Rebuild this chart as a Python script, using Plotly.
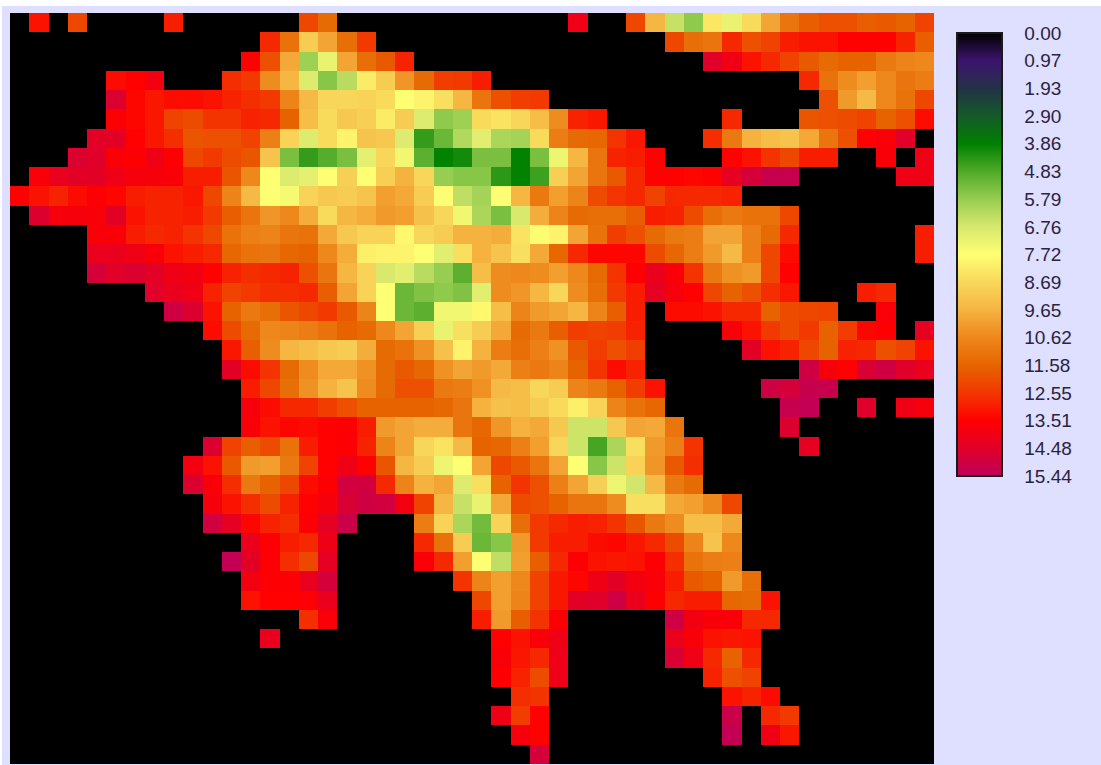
import plotly.graph_objects as go

_ = None

row_00 = [_, 13.2, _, 12.2, _, _, _, _, 13.0] + [_]*6 + [12.2, 11.4] + [_]*12 + [14.0, _, _, 12.2, 9.6, 6.5, 5.7, 8.3, 7.2, 8.6, 10.0, 11.1, 11.7, 12.0, 12.0, 11.7, 11.8, 11.6, 12.3]
row_01 = [_]*13 + [12.8, 11.2, 9.0, 10.0, 11.3, 12.5] + [_]*15 + [12.2, 11.3, 11.1, 12.8, 12.0, 12.3, 13.0, 13.2, 13.2, 13.5, 13.5, 13.5, 12.9, 11.7]
row_02 = [_]*12 + [13.5, 12.0, 9.9, 5.9, 7.2, 10.0, 11.3, 11.8, 12.9] + [_]*15 + [14.5, 14.0, 13.2, 12.8, 12.3, 11.8, 11.4, 11.6, 11.6, 11.0, 10.7, 10.6]
row_03 = [_]*5 + [13.3, 13.5, 13.9, _, _, _, 12.7, 12.5, 10.5, 9.6, 6.9, 5.6, 6.3, 8.2, 9.0, 10.3, 11.4, 12.4, 12.5, 13.0] + [_]*16 + [12.8, 11.2, 10.5, 10.1, 10.6, 11.1, 10.9]
row_04 = [_]*5 + [14.6, 13.4, 13.1, 13.3, 13.3, 13.2, 12.9, 12.7, 12.5, 10.7, 9.5, 8.7, 8.7, 8.8, 8.6, 7.7, 8.0, 8.5, 9.6, 11.1, 12.0, 12.4, 12.5] + [_]*14 + [12.0, 10.2, 9.5, 10.6, 11.2, 12.2]
row_05 = [_]*5 + [13.6, 13.4, 13.1, 12.3, 12.1, 12.6, 12.6, 12.9, 12.8, 11.6, 9.4, 8.6, 9.1, 8.9, 8.2, 9.0, 6.9, 5.7, 5.9, 8.6, 8.4, 8.7, 9.4, 10.5, 12.9, 13.1] + [_]*6 + [12.8, _, _, _, 11.9, 12.0, 12.1, 12.3, 11.6, 12.0, 13.3]
row_06 = [_]*4 + [14.4, 14.4, 13.5, 13.1, 12.7, 11.9, 12.0, 12.0, 12.3, 10.8, 8.8, 6.9, 8.6, 8.0, 9.2, 9.1, 6.9, 4.5, 5.2, 6.2, 7.0, 6.1, 6.0, 8.6, 10.9, 11.4, 11.5, 12.6, 13.1] + [_]*3 + [12.7, 11.0, 9.7, 9.4, 9.2, 9.9, 11.1, 12.0, 13.5, 13.7, 14.5, _]
row_07 = [_]*3 + [14.6, 14.5, 13.7, 13.6, 14.0, 13.6, 12.2, 12.5, 12.1, 11.9, 9.2, 5.4, 4.5, 4.9, 5.4, 7.1, 8.7, 7.4, 5.0, 3.9, 4.1, 5.4, 5.4, 3.9, 5.4, 7.3, 9.6, 11.1, 12.9, 13.0, 13.5] + [_]*3 + [13.5, 13.2, 12.6, 12.2, 13.0, 13.0, _, _, 13.7, _, 14.0]
row_08 = [_, 13.7, 14.2, 14.4, 14.4, 14.0, 13.8, 13.8, 13.7, 13.0, 13.0, 11.9, 10.6, 7.7, 6.9, 7.1, 7.7, 8.9, 7.7, 8.9, 9.7, 8.7, 5.8, 5.6, 5.6, 4.4, 3.9, 4.6, 8.9, 10.0, 11.1, 11.8, 12.8, 13.5, 13.5, 13.4, 13.5, 14.3, 14.8, 15.2, 15.2] + [_]*5 + [14.0, 14.0]
row_09 = [13.5, 13.2, 12.9, 13.3, 13.6, 13.4, 13.0, 12.9, 12.9, 13.1, 12.2, 10.7, 9.5, 7.7, 7.5, 8.8, 9.1, 9.0, 9.2, 10.1, 9.9, 9.0, 7.7, 6.4, 6.0, 7.7, 9.6, 11.0, 10.1, 10.7, 12.1, 12.6, 12.8, 12.3, 12.8, 12.8, 12.8, 12.9] + [_]*10
row_10 = [_, 14.6, 13.8, 13.8, 13.7, 14.4, 13.2, 12.9, 12.9, 13.0, 12.5, 11.7, 11.1, 10.3, 10.6, 9.8, 8.6, 9.6, 9.8, 10.2, 10.1, 9.3, 8.7, 7.4, 6.1, 5.4, 6.8, 9.8, 10.7, 11.4, 11.3, 11.3, 11.7, 13.0, 12.9, 12.1, 11.3, 11.0, 11.2, 11.2, 12.2] + [_]*7
row_11 = [_]*4 + [13.7, 13.7, 13.0, 12.8, 12.9, 12.6, 12.2, 11.2, 10.8, 10.7, 11.1, 11.2, 9.9, 9.1, 8.8, 8.8, 7.9, 8.7, 9.0, 9.7, 9.7, 9.8, 8.4, 7.8, 8.0, 10.0, 11.2, 12.4, 12.0, 11.4, 11.0, 10.9, 10.0, 10.0, 10.8, 11.4, 12.8] + [_]*6 + [13.0]
row_12 = [_]*4 + [14.2, 14.2, 14.0, 13.7, 13.2, 13.0, 12.8, 11.5, 11.2, 11.1, 11.5, 11.6, 10.6, 9.8, 8.1, 8.0, 8.0, 7.7, 7.0, 8.5, 9.7, 9.2, 8.5, 9.9, 11.5, 12.8, 13.4, 13.4, 13.4, 12.1, 11.5, 10.9, 10.2, 9.5, 10.8, 12.2, 13.3] + [_]*6 + [13.0]
row_13 = [_]*4 + [14.8, 14.5, 14.6, 14.4, 14.0, 13.9, 13.5, 12.9, 12.7, 12.8, 12.9, 12.0, 11.1, 9.6, 8.8, 6.8, 7.0, 6.3, 5.8, 5.0, 9.4, 10.5, 10.6, 10.5, 10.1, 10.6, 11.4, 12.6, 13.6, 14.2, 13.7, 12.6, 11.0, 10.4, 10.2, 12.2, 13.5] + [_]*7
row_14 = [_]*7 + [14.5, 14.2, 14.0, 12.9, 12.3, 12.5, 12.7, 12.7, 12.8, 11.7, 10.0, 8.8, 7.7, 5.2, 5.5, 5.7, 5.5, 7.0, 10.5, 10.3, 9.6, 8.7, 10.5, 11.3, 12.5, 13.0, 14.3, 13.8, 13.5, 12.2, 11.6, 12.0, 12.7, 13.1] + [_]*3 + [13.0, 12.8, _, _]
row_15 = [_]*8 + [15.0, 14.6, 13.2, 11.6, 11.0, 11.3, 11.9, 12.2, 12.5, 11.8, 10.7, 7.7, 5.2, 5.0, 7.4, 7.4, 7.9, 9.4, 10.7, 10.2, 10.0, 9.6, 10.7, 11.7, 13.0, _, 13.3, 13.3, 13.2, 12.8, 12.8, 11.6, 12.1, 12.2, 12.3, _, _, 13.7, _, _]
row_16 = [_]*10 + [13.3, 12.1, 11.4, 10.6, 10.7, 10.9, 11.2, 11.6, 11.4, 10.6, 10.0, 8.9, 7.2, 8.5, 9.0, 9.9, 11.4, 11.0, 11.7, 12.4, 12.3, 12.4, 12.9] + [_]*4 + [13.7, 13.2, 12.5, 12.1, 12.5, 11.6, 12.4, 13.4, 13.6, _, 14.3]
row_17 = [_]*11 + [13.1, 11.7, 10.5, 9.6, 9.4, 9.1, 9.0, 9.8, 11.4, 11.2, 10.4, 9.3, 8.0, 9.7, 10.9, 11.3, 10.8, 10.4, 11.8, 12.4, 12.0, 12.4] + [_]*5 + [14.4, 13.2, 12.9, 12.2, 11.6, 12.9, 12.8, 12.0, 12.3, 13.2]
row_18 = [_]*11 + [14.4, 13.3, 12.6, 11.4, 10.5, 9.9, 9.9, 10.4, 11.4, 11.8, 11.5, 10.4, 10.0, 10.2, 9.9, 10.8, 11.0, 10.7, 11.6, 12.6, 13.3, 12.9] + [_]*8 + [15.0, 13.8, 13.5, 14.7, 15.0, 14.5, 14.2]
row_19 = [_]*12 + [13.0, 12.2, 11.3, 10.4, 9.7, 9.2, 10.5, 11.4, 12.0, 12.0, 11.0, 10.9, 10.4, 9.5, 9.4, 8.7, 9.0, 10.7, 11.0, 11.6, 12.4, 13.2] + [_]*5 + [15.0, 14.8, 15.2, 15.2] + [_]*5
row_20 = [_]*12 + [13.8, 13.3, 12.8, 12.8, 12.4, 12.0, 11.6, 11.6, 11.6, 11.6, 11.5, 11.1, 9.7, 9.3, 9.4, 9.0, 8.6, 8.1, 8.8, 10.7, 11.2, 11.5] + [_]*6 + [15.2, 15.3, _, _, 14.5, _, 14.0, 13.8]
row_21 = [_]*12 + [13.7, 13.2, 13.4, 13.3, 13.5, 13.6, 13.0, 10.2, 10.0, 9.8, 9.8, 11.1, 11.5, 10.3, 9.7, 9.9, 9.1, 6.6, 6.6, 9.1, 10.0, 9.9, 11.1] + [_]*5 + [14.6] + [_]*7
row_22 = [_]*10 + [14.6, 12.3, 11.7, 12.1, 11.2, 13.0, 13.5, 13.6, 12.9, 10.7, 10.0, 8.7, 8.4, 9.5, 11.6, 11.5, 10.8, 10.1, 8.7, 6.6, 4.7, 6.1, 8.5, 10.2, 10.8, 12.6] + [_]*5 + [14.3] + [_]*6
row_23 = [_]*9 + [13.9, 13.2, 11.8, 10.2, 10.1, 11.0, 12.3, 13.5, 14.0, 13.5, 11.9, 9.6, 9.0, 7.3, 7.7, 10.0, 12.2, 11.8, 11.1, 10.0, 7.7, 5.6, 6.6, 8.8, 10.3, 11.8, 12.7] + [_]*12
row_24 = [_]*9 + [14.6, 13.7, 12.7, 11.0, 11.6, 12.2, 13.3, 13.6, 14.9, 14.9, 12.8, 10.7, 9.7, 10.0, 6.9, 8.5, 11.6, 12.6, 12.0, 10.8, 10.0, 8.9, 7.3, 6.7, 9.5, 11.0, 11.4] + [_]*12
row_25 = [_]*10 + [13.8, 13.2, 12.7, 12.1, 12.9, 13.5, 13.8, 14.7, 15.0, 14.9, 13.9, 12.3, 9.6, 6.5, 7.2, 9.9, 12.1, 12.0, 11.6, 11.1, 11.1, 10.5, 8.5, 8.5, 9.9, 10.1, 10.6, 12.2] + [_]*10
row_26 = [_]*10 + [14.9, 14.3, 13.4, 12.9, 12.7, 13.6, 14.3, 15.1, _, _, _, 10.9, 8.8, 6.1, 5.3, 8.8, 11.3, 12.5, 12.8, 13.0, 12.9, 12.6, 11.9, 11.0, 10.5, 9.4, 9.4, 9.9] + [_]*10
row_27 = [_]*12 + [14.2, 13.6, 13.0, 12.8, 14.0] + [_]*4 + [12.8, 11.2, 9.0, 5.2, 5.6, 10.2, 12.5, 13.0, 13.0, 13.3, 13.4, 13.1, 12.8, 12.1, 10.7, 9.2, 10.6] + [_]*10
row_28 = [_]*11 + [15.3, 14.4, 13.6, 12.7, 12.2, 14.3] + [_]*4 + [13.7, 12.8, 10.1, 7.7, 6.4, 10.1, 11.7, 12.8, 13.6, 13.2, 13.1, 13.2, 13.6, 12.7, 11.2, 10.9, 10.8] + [_]*10
row_29 = [_]*12 + [13.9, 13.6, 13.6, 14.2, 14.8] + [_]*6 + [12.6, 10.7, 10.1, 10.6, 12.3, 13.1, 13.4, 14.0, 14.4, 13.9, 13.7, 13.0, 11.8, 11.6, 10.2, 11.3] + [_]*9
row_30 = [_]*12 + [13.2, 13.5, 13.5, 13.6, 14.2] + [_]*7 + [12.2, 10.1, 10.7, 12.3, 13.1, 14.4, 14.5, 15.0, 14.2, 13.6, 12.8, 13.0, 13.0, 11.5, 11.4, 13.2] + [_]*8
row_31 = [_]*15 + [12.7, 13.7] + [_]*7 + [13.0, 10.2, 11.7, 12.6, 13.6] + [_]*5 + [15.0, 13.9, 13.7, 13.7, 12.8, 12.8] + [_]*8
row_32 = [_]*13 + [14.2] + [_]*11 + [13.5, 13.2, 13.7, 14.0] + [_]*5 + [14.2, 13.7, 13.2, 13.1, 13.2] + [_]*9
row_33 = [_]*25 + [13.7, 13.1, 12.8, 14.1] + [_]*5 + [14.7, 14.0, 12.8, 11.6, 12.8] + [_]*9
row_34 = [_]*25 + [13.6, 12.9, 12.1, 14.1] + [_]*7 + [12.9, 12.0, 12.3] + [_]*9
row_35 = [_]*26 + [12.7, 12.6] + [_]*9 + [13.2, 12.9, 13.3] + [_]*8
row_36 = [_]*25 + [14.0, 12.4, 13.5] + [_]*9 + [15.1, _, 12.8, 12.5] + [_]*7
row_37 = [_]*26 + [13.8, 13.5] + [_]*9 + [15.3, _, 14.0, 13.1] + [_]*7
row_38 = [_]*27 + [14.8] + [_]*20

grid_rows = [row_00, row_01, row_02, row_03, row_04, row_05, row_06, row_07, row_08, row_09,
             row_10, row_11, row_12, row_13, row_14, row_15, row_16, row_17, row_18, row_19,
             row_20, row_21, row_22, row_23, row_24, row_25, row_26, row_27, row_28, row_29,
             row_30, row_31, row_32, row_33, row_34, row_35, row_36, row_37, row_38]

bad = [(i, len(r)) for i, r in enumerate(grid_rows) if len(r) != 48]
if bad:
    raise SystemExit(f"bad row lengths: {bad}")

tick_labels = ["0.00", "0.97", "1.93", "2.90", "3.86", "4.83", "5.79", "6.76", "7.72",
               "8.69", "9.65", "10.62", "11.58", "12.55", "13.51", "14.48", "15.44"]

# Colour stops from value 0 (black, top of the legend) to 15.44 (magenta, bottom).
colour_stops = [
    (0.0, "rgb(0,0,0)"),
    (0.0625, "rgb(60,20,110)"),
    (0.125, "rgb(35,50,70)"),
    (0.1875, "rgb(20,90,40)"),
    (0.25, "rgb(0,128,0)"),
    (0.3125, "rgb(80,170,40)"),
    (0.375, "rgb(150,205,80)"),
    (0.4375, "rgb(215,232,110)"),
    (0.5, "rgb(255,255,115)"),
    (0.5625, "rgb(248,215,90)"),
    (0.625, "rgb(245,180,65)"),
    (0.6875, "rgb(238,135,28)"),
    (0.75, "rgb(230,100,0)"),
    (0.8125, "rgb(243,55,0)"),
    (0.875, "rgb(255,0,0)"),
    (0.9375, "rgb(225,0,40)"),
    (1.0, "rgb(190,0,90)"),
]

# The legend runs downward from 0, so the colour axis is negated to flip it.
flipped_scale = sorted((1 - p, c) for p, c in colour_stops)
flipped_z = [[None if v is None else -v for v in r] for r in grid_rows]

fig = go.Figure(go.Heatmap(
    z=flipped_z,
    zmin=-15.44,
    zmax=0,
    colorscale=[list(s) for s in flipped_scale],
    hoverongaps=False,
    colorbar=dict(
        thicknessmode="pixels", thickness=45,
        lenmode="pixels", len=443,
        x=(957 - 10) / 924, xanchor="left", xpad=0,
        y=1 - (33 - 13) / 751, yanchor="top", ypad=0,
        tickmode="array",
        tickvals=[-float(t) for t in tick_labels],
        ticktext=tick_labels,
        ticks="outside", ticklen=18, tickcolor="rgba(0,0,0,0)",
        tickfont=dict(family="Liberation Sans", size=19, color="#2a2440"),
        outlinecolor="#1a1a1a", outlinewidth=2,
        borderwidth=0,
    ),
))

fig.update_layout(
    width=1099, height=759,
    margin=dict(l=8, r=167, t=7, b=1, autoexpand=False),
    paper_bgcolor="#dfdfff",
    plot_bgcolor="#000000",
    xaxis=dict(visible=False, range=[-0.5, 47.5], constrain="domain"),
    yaxis=dict(visible=False, range=[38.5, -0.5]),
)

fig.write_html(
    "out.html",
    config={"displayModeBar": False},
    post_script="document.body.style.margin='6px 0 0 2px';document.body.style.overflow='hidden';",
)
